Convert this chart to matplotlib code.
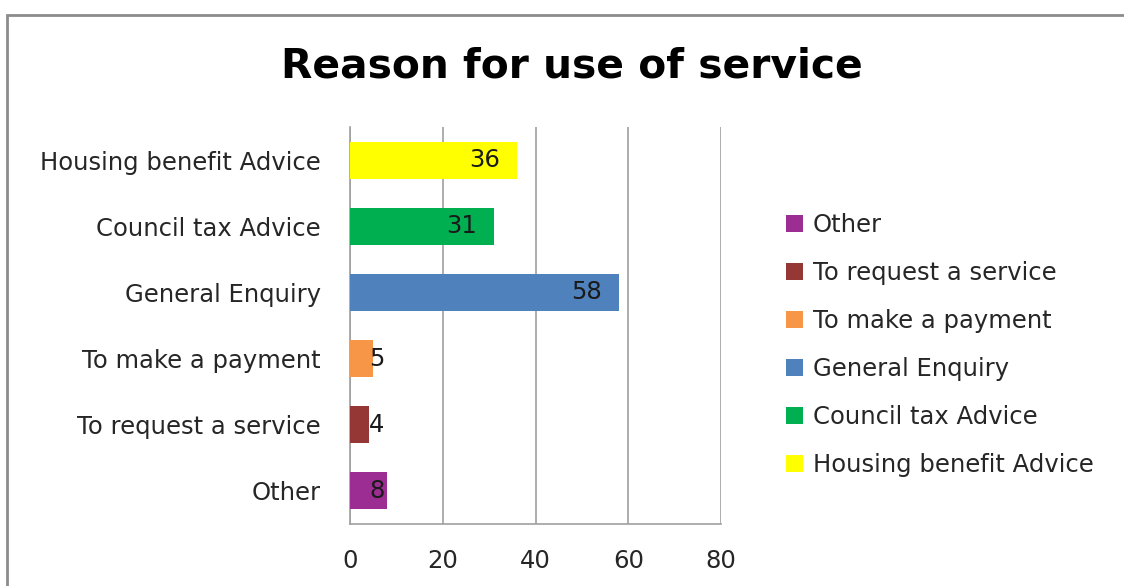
import matplotlib.pyplot as plt
from matplotlib.patches import Rectangle, Patch

plt.rcParams['font.family'] = ['DejaVu Sans']

# categories listed bottom -> top (same order as the legend, top -> bottom)
categorias = ["Other", "To request a service", "To make a payment",
              "General Enquiry", "Council tax Advice", "Housing benefit Advice"]
valores = [8, 4, 5, 58, 31, 36]
colores = ["#9B2D93", "#953735", "#F79646", "#4F81BD", "#00B050", "#FFFF00"]
ticks_x = [0, 20, 40, 60, 80]

fig = plt.figure(figsize=(11.24, 5.86), dpi=100)

# outer chart frame (goes off the right and bottom edges)
fig.patches.append(Rectangle((7 / 1124, -0.2), 1.2, 1.2 - 15 / 586,
                             transform=fig.transFigure, fill=False,
                             edgecolor="#8C8C8C", linewidth=2, zorder=0))

ax = fig.add_axes([350 / 1124, 1 - 524 / 586, 371 / 1124, 397 / 586])

fs = 17.5
for i in range(len(categorias)):
    ax.barh(i, valores[i], height=0.56, color=colores[i], label=categorias[i], zorder=3)
    if valores[i] > 10:
        ax.annotate(str(valores[i]), (valores[i], i), xytext=(-17, 0),
                    textcoords="offset pixels", ha="right", va="center",
                    fontsize=fs, color="#1a1a1a", zorder=4)
    else:
        ax.annotate(str(valores[i]), (0, i), xytext=(19, 0),
                    textcoords="offset pixels", ha="left", va="center",
                    fontsize=fs, color="#1a1a1a", zorder=4)

ax.set_xlim(0, 80)
ax.set_ylim(-0.5, len(categorias) - 0.5)
ax.set_xticks(ticks_x)
ax.set_xticklabels([str(t) for t in ticks_x], fontsize=fs, color="#262626")
ax.set_yticks(range(len(categorias)))
ax.set_yticklabels(categorias, fontsize=fs, color="#262626")
ax.tick_params(axis="both", length=0)
ax.tick_params(axis="x", pad=18)
ax.tick_params(axis="y", pad=21)
ax.grid(axis="x", color="#A0A0A0", linewidth=1.2, zorder=0)
for s in ["top", "right"]:
    ax.spines[s].set_visible(False)
for s in ["left", "bottom"]:
    ax.spines[s].set_color("#A0A0A0")
    ax.spines[s].set_linewidth(1.2)

fig.text(572 / 1124, 1 - 67 / 586, "Reason for use of service", ha="center",
         va="center", fontsize=29.3, fontweight="bold", color="black")

handles = [Patch(facecolor=colores[i], label=categorias[i]) for i in range(len(categorias))]
fig.legend(handles=handles, loc="upper left", bbox_to_anchor=(764 / 1124, 1 - 191 / 586),
           frameon=False, fontsize=fs, handlelength=0.7, handleheight=0.7,
           handletextpad=0.4, labelspacing=0.99, labelcolor="#262626")

fig.savefig("out.png", dpi=100)
